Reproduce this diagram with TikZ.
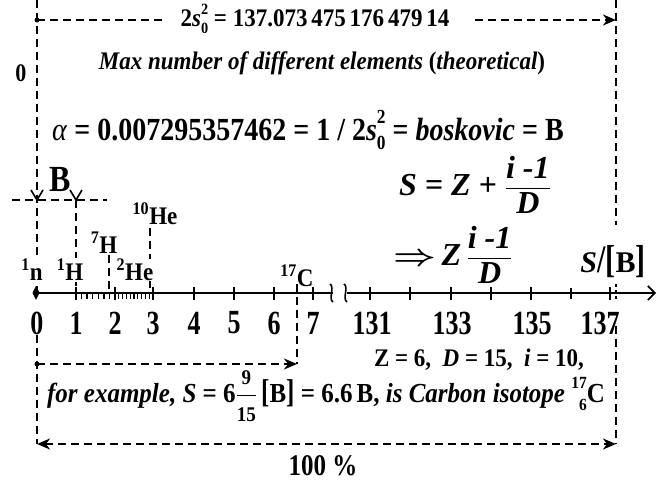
\documentclass[tikz,border=0pt]{standalone}
\usepackage{fontspec}
\usepackage{amsmath}
\setmainfont{Liberation Serif}
\usetikzlibrary{arrows.meta}
\newcommand\supsub[2]{\makebox[0pt][l]{\raisebox{0.5em}{\scalebox{0.62}{#1}}}\raisebox{-0.28em}{\scalebox{0.62}{#2}}}
\newcommand\presub[2]{\rlap{\raisebox{0.5em}{\scalebox{0.62}{#1}}}\hphantom{\scalebox{0.62}{#1}}\llap{\raisebox{-0.28em}{\scalebox{0.62}{#2}}}}
\newcommand\myfrac[3][1pt]{\ensuremath{\genfrac{}{}{#1}{0}{\mbox{#2}}{\mbox{#3}}}}
\newcommand\fs[1]{\fontsize{#1}{#1}\selectfont}
\newcommand\ys[2]{\scalebox{1}[#1]{#2}}
\begin{document}
\begin{tikzpicture}[x=1pt,y=-1pt,
 dl/.style={line width=1.7pt, dash pattern=on 8pt off 5pt},
 ax/.style={line width=1.6pt},
 tk/.style={line width=2.8pt},
 stk/.style={line width=1.3pt},
 tip/.style={-{Stealth[length=13pt,width=11pt,inset=4pt]}},
 txt/.style={inner sep=0pt, font=\bfseries},
 iso/.style={inner sep=1.5pt, fill=white, font=\fs{23}\bfseries},
]
\useasboundingbox (0,0) rectangle (665,481);
% top
\coordinate (Ltop) at (37,0);
\coordinate (Lax) at (37,293);
\coordinate (tl) at (37,20);
\coordinate (tr) at (616,20);
\node[txt, font=\fs{23}\bfseries] (top) at (315,19) {\ys{1.1}{2\textit{s}\supsub{2}{0} = 137.073\,475\,176\,479\,14}};
\draw[dl, shorten >=14pt] (tl) -- (tl -| top.west);
\draw[dl, tip, shorten <=25pt] (tr -| top.east) -- (tr);
\fill (tl) circle (2.5pt);
\coordinate (Rtop) at (616,0);
\coordinate (Rmid) at (616,225);
\draw[dl] (Ltop) -- (Lax);
\draw[dl] (Rtop) -- (Rmid);
\node[txt, font=\fs{22}\bfseries] (zero) at (21,73) {\ys{1.15}{0}};
\node[txt, font=\fs{23}\bfseries\itshape] (max) at (322,63) {\ys{1.1}{Max number of different elements \textup{(}theoretical\textup{)}}};
\node[txt, font=\fs{28}\bfseries] (alpha) at (308,130) {\ys{1.15}{\textit{\mdseries α} = 0.007295357462 = 1 / 2\textit{s}\supsub{2}{0} = \textit{boskovic} = B}};
% B
\node[txt, font=\fs{32}\bfseries] (B) at (60,180) {\ys{1.15}{B}};
\coordinate (hl) at (12,200);
\coordinate (hr) at (107,200);
\draw[dl] (hl) -- (hr);
\coordinate (v0) at (37,200);
\coordinate (v1) at (76,200);
\draw[line width=1.6pt] (v0) ++(-6,-10) -- (v0) -- ++(6,-10);
\draw[line width=1.6pt] (v1) ++(-6,-10) -- (v1) -- ++(6,-10);
\coordinate (ax1) at (76,293);
\draw[dl] (v1) -- (ax1);
% formulas
\node[txt, font=\fs{32}\bfseries\itshape] (S1) at (475,185) {S = Z + \myfrac[1.2pt]{i -1}{D}};
\node[txt, font=\fs{32}\bfseries\itshape] (S2) at (453,255) {\scalebox{1.5}[1.2]{\boldmath$\Rightarrow$}\,Z\,\myfrac[1.2pt]{i -1}{D}};
\node[txt, font=\fs{30}\bfseries] (SB) at (613,262) {\textit{S}\scalebox{1}[1.3]{/}\scalebox{1}[1.3]{[}B\scalebox{1}[1.3]{]}};
% isotope lines
\coordinate (h7t) at (109,255);
\coordinate (h7b) at (109,293);
\coordinate (he10t) at (150,228);
\coordinate (he10b) at (150,293);
\draw[dl] (h7t) -- (h7b);
\draw[dl] (he10t) -- (he10b);
% axis
\coordinate (a0) at (36,293);
\coordinate (abr1) at (333,293);
\coordinate (abr2) at (347,293);
\coordinate (aend) at (656,293);
\draw[ax] (a0) -- (abr1);
\draw[ax, -{Straight Barb[length=7pt,width=14pt,line width=1.6pt]}] (abr2) -- (aend);
\draw[ax] (abr1) ++(-3,-9) .. controls ++(5,3) and ++(-5,-3) .. ++(3,18);
\draw[ax] (abr2) ++(-3,-9) .. controls ++(5,3) and ++(-5,-3) .. ++(3,18);
\fill (a0) ++(0,-7) -- ++(3.5,7) -- ++(-3.5,7) -- ++(-3.5,-7) -- cycle;
\foreach \x in {76,115,153,194,234,274,313,370,410,451,491,531,610}
  \draw[tk] (\x,287) -- (\x,300);
\draw[stk] (571,288) -- (571,299);
\foreach \k in {1,...,6} \draw[stk] ({76+\k*39/7},293) -- ({76+\k*39/7},299);
\foreach \k in {1,...,9} \draw[stk] ({115+\k*38/10},293) -- ({115+\k*38/10},299);
% lower part lines
\coordinate (c17t) at (297,284);
\coordinate (c17b) at (297,364);
\draw[dl] (c17t) -- (c17b);
% isotopes
\node[iso] (n1) at (32,270) {\ys{1.1}{\textsuperscript{1}n}};
\node[iso] (H1) at (70,270) {\ys{1.1}{\textsuperscript{1}H}};
\node[iso, inner sep=0pt] (He2) at (135,270) {\ys{1.1}{\textsuperscript{2}He}};
\node[iso] (H7) at (104,243) {\ys{1.1}{\textsuperscript{7}H}};
\node[iso] (He10) at (155,214) {\ys{1.1}{\textsuperscript{10}He}};
\node[iso, fill=none] (C17) at (297,276) {\ys{1.1}{\textsuperscript{17}C}};
% axis labels
\foreach \x/\l in {37/0,76/1,115/2,153/3,194/4,234/5,274/6,313/7,372/131,452/133,532/135,600/137}
  \node[txt, font=\fs{26}\bfseries] at (\x,323) {\ys{1.3}{\l}};
\coordinate (ex0) at (37,364);
\draw[dl, tip] (ex0) -- (c17b);
\fill (ex0) circle (2.5pt);
\coordinate (Llo) at (37,335);
\coordinate (bl) at (37,444);
\coordinate (Rlo) at (616,326);
\coordinate (br) at (616,444);
\draw[dl] (Llo) -- (bl);
\draw[dl] (Rlo) -- (br);
\draw[line width=1.6pt, dash pattern=on 3pt off 3pt] (616,284) -- (616,300);
\node[txt, font=\fs{23}\bfseries] (Zl) at (479,360) {\ys{1.1}{Z = 6,\ \ \textit{D} = 15,\ \ \textit{i} = 10,}};
\node[txt, font=\fs{25}\bfseries] (ex) at (326,396) {\ys{1.1}{\textit{for example, S} = 6\myfrac[0.8pt]{\fs{19}9}{\fs{19}15}\,\scalebox{1}[1.2]{[}B\scalebox{1}[1.2]{]} = 6.6\,B, \textit{is Carbon isotope} \presub{17}{6}C}};
\draw[dl, {Stealth[length=13pt,width=11pt,inset=4pt]}-{Stealth[length=13pt,width=11pt,inset=4pt]}] (bl) -- (br);
\node[txt, font=\fs{25}\bfseries] (pct) at (323,466) {\ys{1.2}{100 \%}};
\end{tikzpicture}
\end{document}
